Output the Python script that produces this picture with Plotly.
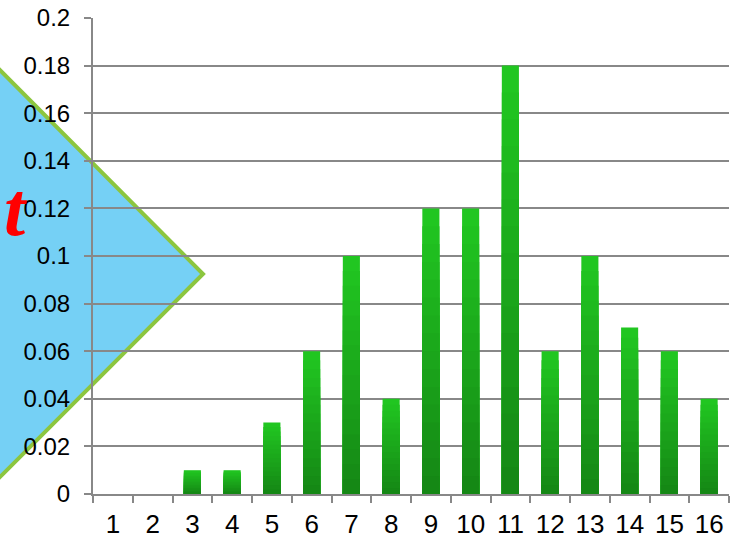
import plotly.graph_objects as go

# Data
categories = [str(i) for i in range(1, 17)]
values = [0, 0, 0.01, 0.01, 0.03, 0.06, 0.10, 0.04, 0.12, 0.12, 0.18, 0.06, 0.10, 0.07, 0.06, 0.04]
y_tick_vals = [0, 0.02, 0.04, 0.06, 0.08, 0.10, 0.12, 0.14, 0.16, 0.18, 0.20]
y_tick_text = ["0", "0.02", "0.04", "0.06", "0.08", "0.1", "0.12", "0.14", "0.16", "0.18", "0.2"]

W, H = 737, 540
M_L, M_R, M_T, M_B = 93, 8, 18, 46
PW, PH = W - M_L - M_R, H - M_T - M_B


def px_to_paper(x, y):
    return (x - M_L) / PW, (H - M_B - y) / PH


def mix(c1, c2, t):
    return "rgb({},{},{})".format(*[round(a + (b - a) * t) for a, b in zip(c1, c2)])


TOP, BOTTOM = (33, 198, 33), (21, 136, 21)
STEPS = 16

fig = go.Figure()
# Vertical gradient per bar: overlaid bars, each shorter one darker
for k in range(STEPS):
    frac = 1 - k / STEPS
    fig.add_trace(go.Bar(
        x=categories, y=[v * frac for v in values],
        marker=dict(color=mix(TOP, BOTTOM, k / (STEPS - 1)), line=dict(width=0)),
        width=0.43, hoverinfo="skip" if k else None,
    ))

# Decorative arrow-shaped triangle on the left, with its label
tri = [px_to_paper(-30, 40), px_to_paper(203, 274), px_to_paper(-30, 507)]
path = "M {} {} L {} {} L {} {} Z".format(*[c for p in tri for c in p])
fig.add_shape(type="path", path=path, xref="paper", yref="paper",
              fillcolor="#75D0F5", line=dict(color="#8CC63F", width=4),
              layer="below")
tx, ty = px_to_paper(16, 209)
fig.add_annotation(x=tx, y=ty, xref="paper", yref="paper", text="<b><i>t</i></b>",
                   showarrow=False, xanchor="center", yanchor="middle",
                   font=dict(family="Liberation Serif, Times New Roman, serif",
                             size=76, color="#FF0000"))

fig.update_layout(
    width=W, height=H,
    margin=dict(l=M_L, r=M_R, t=M_T, b=M_B, autoexpand=False),
    paper_bgcolor="white", plot_bgcolor="rgba(0,0,0,0)",
    showlegend=False, barmode="overlay",
    font=dict(family="Liberation Sans, Arial, sans-serif", size=24, color="black"),
)
fig.update_xaxes(
    type="category", tickson="boundaries", ticks="outside", ticklen=7,
    tickcolor="#888888", tickwidth=2, showline=True, linecolor="#888888",
    linewidth=2, showgrid=False, tickfont=dict(size=26), ticklabelstandoff=6,
    automargin=False,
)
fig.update_yaxes(
    range=[0, 0.2], tickvals=y_tick_vals, ticktext=y_tick_text,
    ticks="outside", ticklen=7, tickcolor="#888888", tickwidth=2,
    showgrid=True, gridcolor="#888888", gridwidth=2,
    showline=True, linecolor="#888888", linewidth=2,
    zeroline=False, tickfont=dict(size=24), ticklabelstandoff=9,
    automargin=False,
)

fig.write_html("out.html")
